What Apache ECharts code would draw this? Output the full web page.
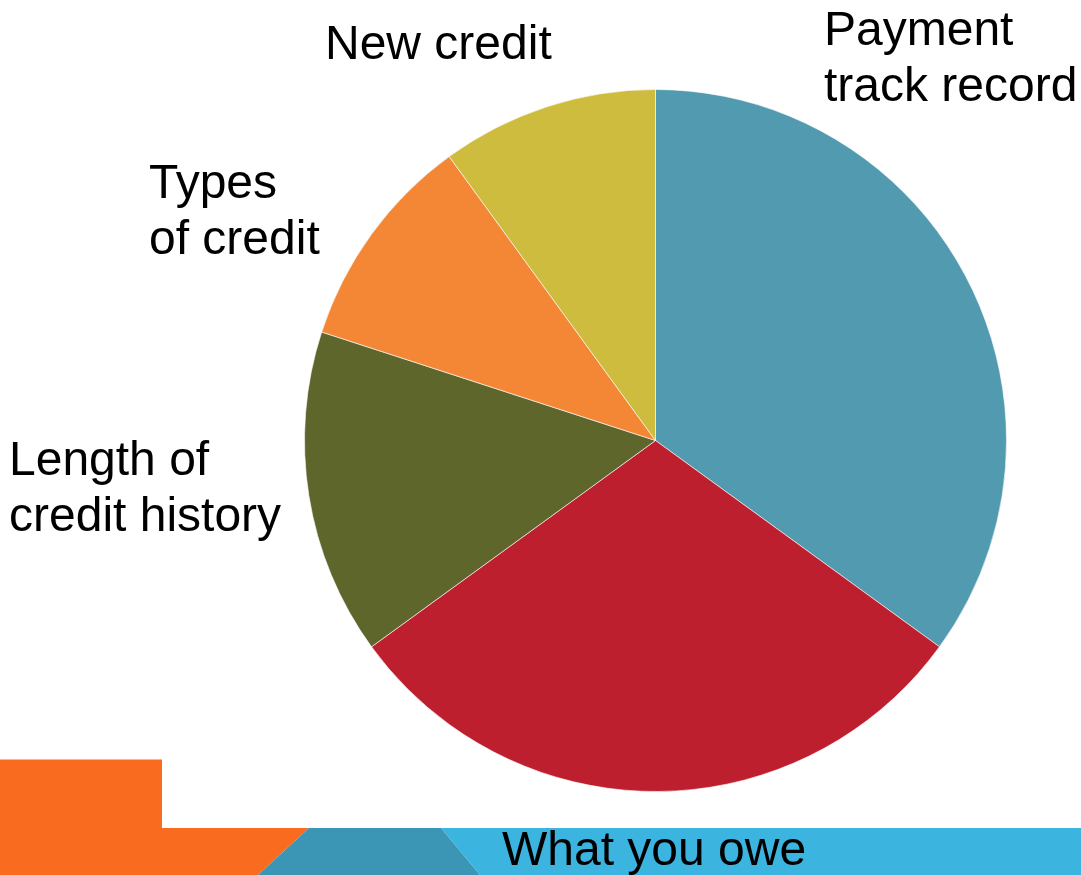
<!DOCTYPE html>
<html>
<head>
<meta charset="utf-8">
<title>Credit score factors</title>
<script src="https://cdn.jsdelivr.net/npm/echarts@6/dist/echarts.min.js"></script>
<style>
    html, body { margin: 0; padding: 0; background: #fff; }
    #chart { width: 1081px; height: 875px; }
</style>
</head>
<body>
<div id="chart"></div>
<script>
var categories = ['Payment\ntrack record', 'What you owe', 'Length of\ncredit history', 'Types\nof credit', 'New credit'];
var shares = [35, 30, 15, 10, 10];
var sliceColors = ['#519AAF', '#BE1F2F', '#5E662C', '#F48735', '#CDBC3E'];

// where each label sits (left / top of the text block)
var labelPos = [[824, 4], [502, 824], [9, 434], [149, 157], [325, 18]];

var myChart = echarts.init(document.getElementById('chart'));

var data = [];
for (var i = 0; i < categories.length; i++) {
    data.push({
        name: categories[i],
        value: shares[i],
        itemStyle: { color: sliceColors[i] }
    });
}

var option = {
    animation: false,
    backgroundColor: '#fff',
    // decorative band along the bottom
    graphic: [
        {
            type: 'polygon',
            z: 0,
            shape: { points: [[0, 759.5], [162, 759.5], [162, 828], [309, 828], [258, 875], [0, 875]] },
            style: { fill: '#F96B1E' }
        },
        {
            type: 'polygon',
            z: 0,
            shape: { points: [[309, 828], [441, 828], [480, 875], [258, 875]] },
            style: { fill: '#3A96B4' }
        },
        {
            type: 'polygon',
            z: 0,
            shape: { points: [[441, 828], [1081, 828], [1081, 875], [480, 875]] },
            style: { fill: '#3BB4E0' }
        }
    ],
    series: [
        {
            type: 'pie',
            z: 10,
            center: [655.5, 440.5],
            radius: 351,
            startAngle: 90,
            clockwise: true,
            silent: true,
            itemStyle: { borderColor: '#ffffff', borderWidth: 0.6 },
            label: {
                show: true,
                position: 'outside',
                color: '#000',
                fontFamily: '"Liberation Sans", Arial, sans-serif',
                fontSize: 48,
                lineHeight: 56,
                align: 'left',
                overflow: 'none',
                formatter: '{b}'
            },
            labelLine: { show: false },
            labelLayout: function(params) {
                var p = labelPos[params.dataIndex];
                return { x: p[0], y: p[1], align: 'left', verticalAlign: 'top' };
            },
            data: data
        }
    ]
};

myChart.setOption(option);
</script>
</body>
</html>
